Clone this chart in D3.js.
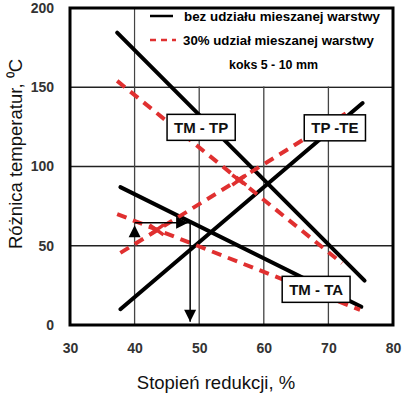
<!DOCTYPE html>
<html><head><meta charset="utf-8">
<script src="https://cdn.jsdelivr.net/npm/d3@7/dist/d3.min.js"></script>
<style>html,body{margin:0;padding:0;background:#fff;}svg{display:block;font-family:Arial,"Liberation Sans",sans-serif;}</style>
</head><body><svg id="c" width="404" height="395"></svg>
<script>
const xTicks = [30, 40, 50, 60, 70, 80];
const yTicks = [0, 50, 100, 150, 200];
const seriesNames = ["bez udziału mieszanej warstwy", "30% udział mieszanej warstwy"];
const legendNote = "koks 5 - 10 mm";
const blackTMTP = [[37.3, 184.5], [75.6, 28]];
const blackTPTE = [[37.8, 10], [75.3, 140]];
const blackTMTA = [[37.8, 87], [75.1, 11.5]];
const redTMTP = [[37.3, 154], [72.1, 39]];
const redTPTE = [[37.8, 45.5], [72.9, 134]];
const redTMTA = [[37.3, 70], [74.9, 9.5]];
const crossMarks = [[43.4, 60], [56.2, 91.5]];
const labelNames = ["TM - TP", "TP -TE", "TM - TA"];
const labelAnchors = [[50.3, 124.7], [71.0, 124.4], [68.1, 22.5]];
const arrowUp = [40, 63];
const arrowPath = [[40, 64.5], [48.6, 64.5], [48.6, 2]];

const svg = d3.select("#c");
const L = 70, R = 393, T = 8, B = 325;
const x = d3.scaleLinear().domain([30, 80]).range([L, R]);
const y = d3.scaleLinear().domain([0, 200]).range([B, T]);
const red = "#e03030";

// gridlines
const g = svg.append("g");
yTicks.filter(v => v > 0 && v < 200).forEach(v => {
  g.append("line").attr("x1", L).attr("x2", R).attr("y1", y(v)).attr("y2", y(v))
    .attr("stroke", "#222").attr("stroke-width", 1.4);
});
xTicks.filter(v => v > 30 && v < 80).forEach(v => {
  g.append("line").attr("x1", x(v)).attr("x2", x(v)).attr("y1", B).attr("y2", T)
    .attr("stroke", "#444").attr("stroke-width", 1.3);
});
// legend box (white, bounded by gridlines)
svg.append("rect").attr("x", x(40) + 1).attr("y", T).attr("width", R - x(40) - 1).attr("height", y(150) - T - 1)
  .attr("fill", "#fff");

// axes with d3
const xAxis = d3.axisBottom(x).tickValues(xTicks).tickSize(0).tickPadding(18);
svg.append("g").attr("transform", `translate(0,${B})`).call(xAxis)
  .call(s => s.select(".domain").remove())
  .selectAll("text").attr("font-size", 14).attr("font-weight", "bold").attr("fill", "#333")
  .attr("font-family", "Arial,'Liberation Sans',sans-serif");
const yAxis = d3.axisLeft(y).tickValues(yTicks).tickSize(0).tickPadding(16);
svg.append("g").attr("transform", `translate(${L},0)`).call(yAxis)
  .call(s => s.select(".domain").remove())
  .selectAll("text").attr("font-size", 14).attr("font-weight", "bold").attr("fill", "#333")
  .attr("font-family", "Arial,'Liberation Sans',sans-serif");

// legend
const lg = svg.append("g");
lg.append("line").attr("x1", 150).attr("x2", 173).attr("y1", 16).attr("y2", 16).attr("stroke", "#000").attr("stroke-width", 2.5);
lg.append("line").attr("x1", 150).attr("x2", 176).attr("y1", 40).attr("y2", 40).attr("stroke", red).attr("stroke-width", 2.5).attr("stroke-dasharray", "6,5");
const lt1 = lg.append("text").attr("x", 184).attr("y", 21).text(seriesNames[0]).attr("font-size", 13).attr("font-weight", "bold");
const lt2 = lg.append("text").attr("x", 183).attr("y", 45).text(seriesNames[1]).attr("font-size", 13).attr("font-weight", "bold");
const lt3 = lg.append("text").attr("x", 229).attr("y", 69).text(legendNote).attr("font-size", 13).attr("font-weight", "bold");
// fit widths to reference extents
lt1.attr("textLength", 196).attr("lengthAdjust", "spacingAndGlyphs");
lt2.attr("textLength", 191).attr("lengthAdjust", "spacingAndGlyphs");
lt3.attr("textLength", 89).attr("lengthAdjust", "spacingAndGlyphs");

// lines
const line = d3.line().x(d => x(d[0])).y(d => y(d[1]));
[blackTMTP, blackTPTE, blackTMTA].forEach(d => {
  svg.append("path").attr("d", line(d)).attr("stroke", "#000").attr("stroke-width", 4).attr("fill", "none").attr("stroke-linecap", "round");
});
[redTMTP, redTPTE, redTMTA].forEach(d => {
  svg.append("path").attr("d", line(d)).attr("stroke", red).attr("stroke-width", 4).attr("fill", "none")
    .attr("stroke-dasharray", "10,7");
});
crossMarks.forEach(d => {
  const cx = x(d[0]), cy = y(d[1]);
  svg.append("path").attr("d", `M${cx-7},${cy-5}L${cx+7},${cy+5}M${cx-7},${cy+5}L${cx+7},${cy-5}`)
    .attr("stroke", red).attr("stroke-width", 3.5);
});

// annotation arrows
svg.append("path").attr("d", line(arrowPath)).attr("stroke", "#000").attr("stroke-width", 1.5).attr("fill", "none");
(function(){
  const ux = x(arrowUp[0]), uy = y(arrowUp[1]);
  svg.append("path").attr("d", `M${ux},${uy}L${ux-6},${uy+12}L${ux+6},${uy+12}Z`).attr("fill", "#000");
  const rx = x(arrowPath[1][0]) - 2, ry = y(arrowPath[1][1]);
  svg.append("path").attr("d", `M${rx},${ry}L${rx-12},${ry-6}L${rx-12},${ry+6}Z`).attr("fill", "#000");
  const dx = x(arrowPath[2][0]), dy = y(arrowPath[2][1]);
  svg.append("path").attr("d", `M${dx},${dy}L${dx-6},${dy-12}L${dx+6},${dy-12}Z`).attr("fill", "#000");
})();

// label boxes
labelNames.forEach((t, i) => {
  const cx = x(labelAnchors[i][0]), cy = y(labelAnchors[i][1]);
  const gg = svg.append("g");
  const txt = gg.append("text").attr("x", cx).attr("y", cy + 5.5).attr("text-anchor", "middle")
    .attr("font-size", 15).attr("font-weight", "bold").attr("fill", "#111").text(t);
  const w = txt.node().getComputedTextLength() + 14;
  gg.insert("rect", "text").attr("x", cx - w / 2).attr("y", cy - 13).attr("width", w).attr("height", 26)
    .attr("fill", "#fff").attr("stroke", "#000").attr("stroke-width", 1.5);
});

// frame
svg.append("rect").attr("x", L).attr("y", T).attr("width", R - L).attr("height", B - T)
  .attr("fill", "none").attr("stroke", "#000").attr("stroke-width", 3);

// axis titles
svg.append("text").attr("x", 216).attr("y", 389).attr("text-anchor", "middle")
  .attr("font-size", 18.5).attr("fill", "#111").text("Stopień redukcji, %");
svg.append("text").attr("transform", `translate(22,154) rotate(-90)`).attr("text-anchor", "middle")
  .attr("font-size", 18.5).attr("fill", "#111").text("Różnica temperatur, ⁰C");
</script></body></html>
